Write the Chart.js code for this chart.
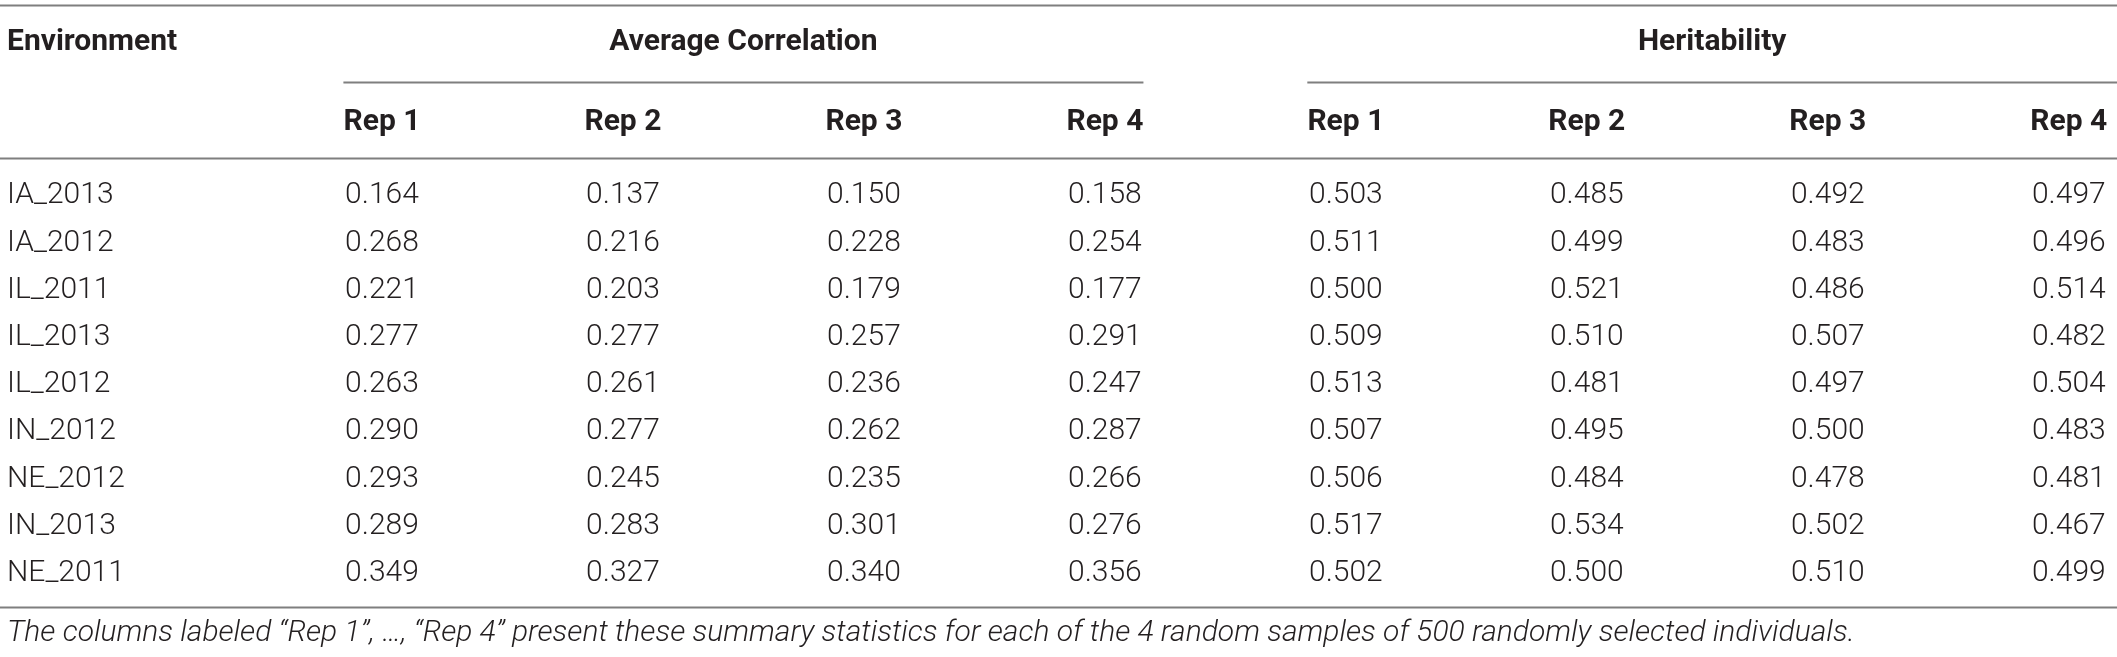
<!DOCTYPE html>
<html>
<head>
<meta charset="utf-8">
<script src="https://cdn.jsdelivr.net/npm/chart.js@4"></script>
<style>
  html, body { margin: 0; padding: 0; background: #fff; }
  #wrap { width: 2117px; height: 657px; position: relative; }
</style>
</head>
<body>
<div id="wrap"><canvas id="tabela"></canvas></div>
<script>
// dados da tabela
var environments = ['IA_2013', 'IA_2012', 'IL_2011', 'IL_2013', 'IL_2012', 'IN_2012', 'NE_2012', 'IN_2013', 'NE_2011'];
var repLabels = ['Rep 1', 'Rep 2', 'Rep 3', 'Rep 4', 'Rep 1', 'Rep 2', 'Rep 3', 'Rep 4'];
var groupLabels = ['Average Correlation', 'Heritability'];
var firstHeader = 'Environment';
var footnote = 'The columns labeled \u201cRep 1\u201d, \u2026, \u201cRep 4\u201d present these summary statistics for each of the 4 random samples of 500 randomly selected individuals.';

var corrRep1 = [0.164, 0.268, 0.221, 0.277, 0.263, 0.290, 0.293, 0.289, 0.349];
var corrRep2 = [0.137, 0.216, 0.203, 0.277, 0.261, 0.277, 0.245, 0.283, 0.327];
var corrRep3 = [0.150, 0.228, 0.179, 0.257, 0.236, 0.262, 0.235, 0.301, 0.340];
var corrRep4 = [0.158, 0.254, 0.177, 0.291, 0.247, 0.287, 0.266, 0.276, 0.356];
var herRep1 = [0.503, 0.511, 0.500, 0.509, 0.513, 0.507, 0.506, 0.517, 0.502];
var herRep2 = [0.485, 0.499, 0.521, 0.510, 0.481, 0.495, 0.484, 0.534, 0.500];
var herRep3 = [0.492, 0.483, 0.486, 0.507, 0.497, 0.500, 0.478, 0.502, 0.510];
var herRep4 = [0.497, 0.496, 0.514, 0.482, 0.504, 0.483, 0.481, 0.467, 0.499];

var colunas = [corrRep1, corrRep2, corrRep3, corrRep4, herRep1, herRep2, herRep3, herRep4];

var corTexto = '#231f20';
var corLinha = '#7f7f7f';

// cada celula vira um ponto (x = coluna, y = linha)
var datasets = colunas.map(function (valores, c) {
  return {
    label: repLabels[c],
    data: valores.map(function (v, r) { return { x: c + 1, y: r, v: v }; }),
    pointRadius: 0,
    showLine: false
  };
});

var tabelaPlugin = {
  id: 'tabela',
  afterDatasetsDraw: function (chart) {
    var ctx = chart.ctx;
    var xs = chart.scales.x;
    var ys = chart.scales.y;
    var area = chart.chartArea;
    var half = 0.16;

    ctx.save();
    ctx.textBaseline = 'middle';
    ctx.fillStyle = corTexto;

    // linhas horizontais
    ctx.strokeStyle = corLinha;
    ctx.lineWidth = 2;
    function hline(x0, x1, yv) {
      var y = Math.round(ys.getPixelForValue(yv)) + 0.5;
      ctx.beginPath();
      ctx.moveTo(x0, y);
      ctx.lineTo(x1, y);
      ctx.stroke();
    }
    hline(area.left, area.right, -4.05);
    hline(xs.getPixelForValue(1 - half), xs.getPixelForValue(4 + half), -2.42);
    hline(xs.getPixelForValue(5 - half), area.right, -2.42);
    hline(area.left, area.right, -0.8);
    hline(area.left, area.right, 8.72);

    // cabecalhos
    ctx.font = 'bold 30px Roboto';
    ctx.textAlign = 'left';
    ctx.fillText(firstHeader, area.left + 7, ys.getPixelForValue(-3.26));
    ctx.textAlign = 'center';
    ctx.fillText(groupLabels[0], (xs.getPixelForValue(1 - half) + xs.getPixelForValue(4 + half)) / 2, ys.getPixelForValue(-3.26));
    ctx.fillText(groupLabels[1], (xs.getPixelForValue(5 - half) + area.right) / 2, ys.getPixelForValue(-3.26));
    repLabels.forEach(function (lab, c) {
      ctx.fillText(lab, xs.getPixelForValue(c + 1), ys.getPixelForValue(-1.55));
    });

    // nomes dos ambientes
    ctx.font = '300 30px Roboto';
    ctx.textAlign = 'left';
    environments.forEach(function (env, r) {
      ctx.fillText(env, area.left + 7, ys.getPixelForValue(r));
    });

    // valores das celulas
    ctx.textAlign = 'center';
    chart.data.datasets.forEach(function (ds, i) {
      var meta = chart.getDatasetMeta(i);
      meta.data.forEach(function (pt, j) {
        ctx.fillText(ds.data[j].v.toFixed(3), pt.x, pt.y);
      });
    });

    // nota de rodape
    ctx.font = 'italic 300 30px Roboto';
    ctx.textAlign = 'left';
    ctx.fillText(footnote, area.left + 7, ys.getPixelForValue(9.27));
    ctx.restore();
  }
};

var myChart = new Chart(document.getElementById('tabela'), {
  type: 'scatter',
  data: { datasets: datasets },
  options: {
    responsive: true,
    maintainAspectRatio: false,
    animation: false,
    layout: { padding: 0 },
    plugins: { legend: { display: false }, tooltip: { enabled: false } },
    scales: {
      x: { type: 'linear', display: false, min: -0.585, max: 8.2 },
      y: { type: 'linear', display: false, reverse: true, min: -4.15, max: 9.77 }
    }
  },
  plugins: [tabelaPlugin]
});
</script>
</body>
</html>
